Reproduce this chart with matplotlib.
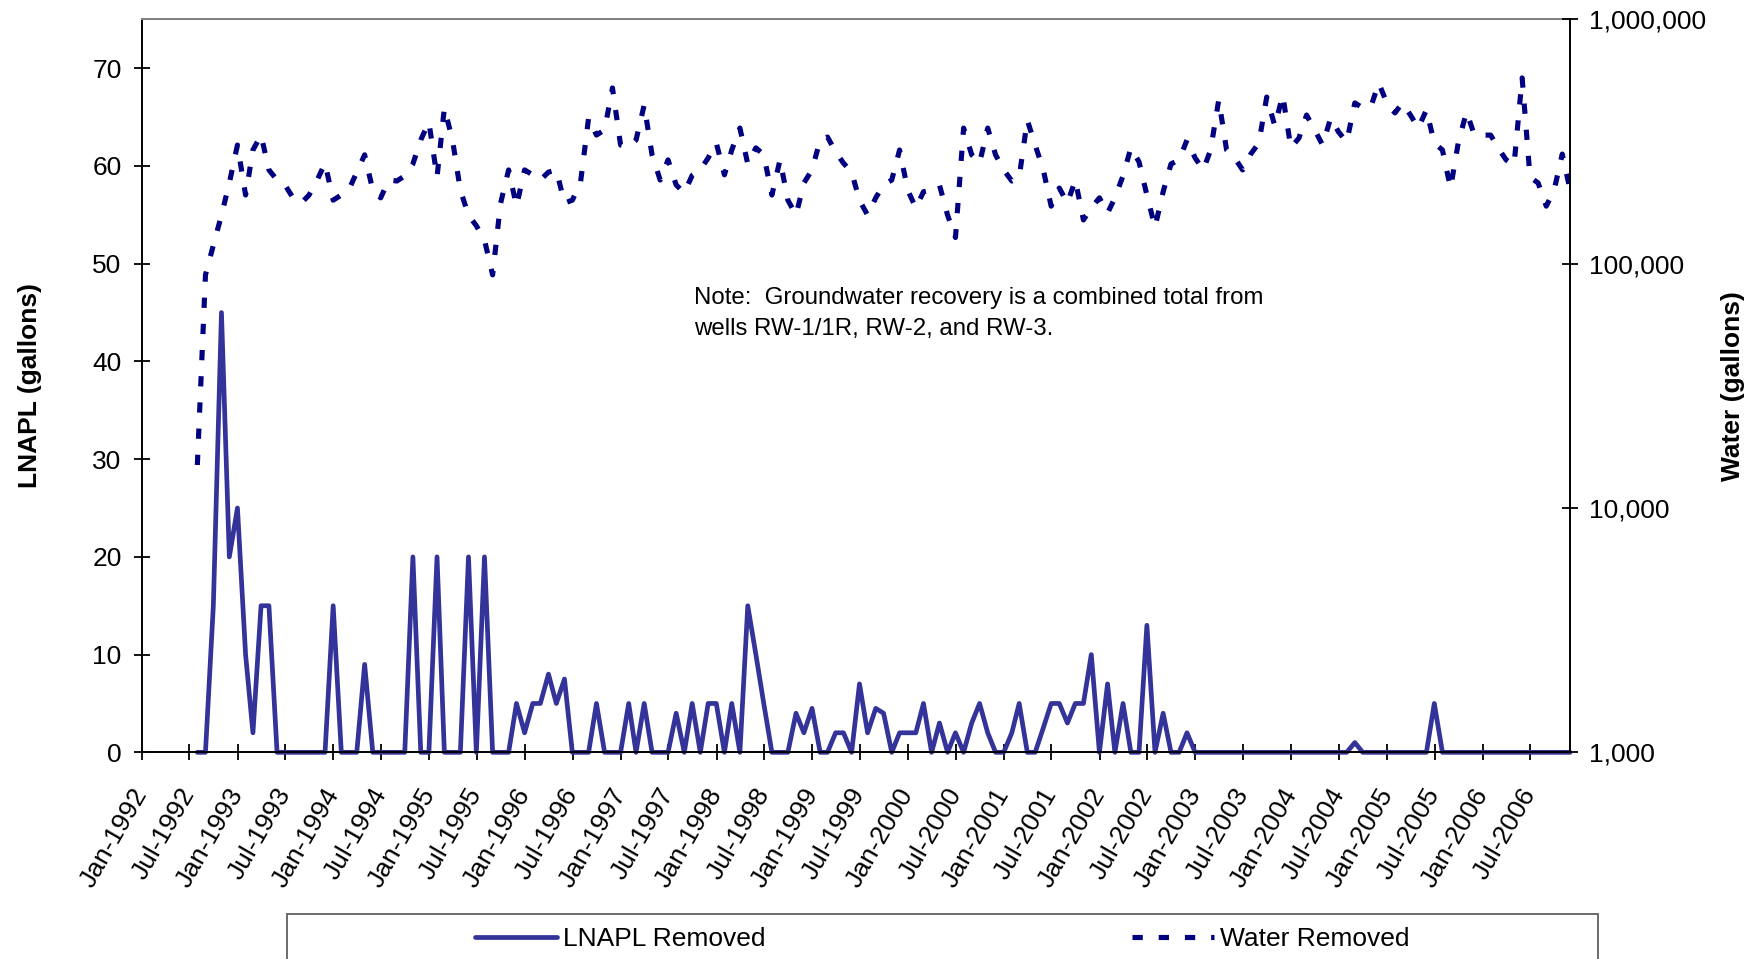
import numpy as np
import pandas as pd
import matplotlib
matplotlib.use('Agg')
import matplotlib.pyplot as plt
from matplotlib.ticker import FuncFormatter, NullLocator
from matplotlib.patches import Rectangle

plt.rcParams['font.family'] = ['Liberation Sans', 'DejaVu Sans']

# monthly totals Jul-1992 .. Nov-2006, plotted at month end
dates = pd.date_range('1992-08-01', '2006-12-01', freq='MS') - pd.Timedelta(days=1)

# LNAPL removed (gallons), one row per year
lnapl = (
    [0, 0, 15, 45, 20, 25] +                               # 1992 Jul-Dec
    [10, 2, 15, 15, 0, 0, 0, 0, 0, 0, 0, 15] +             # 1993
    [0, 0, 0, 9, 0, 0, 0, 0, 0, 20, 0, 0] +                # 1994
    [20, 0, 0, 0, 20, 0, 20, 0, 0, 0, 5, 2] +              # 1995
    [5, 5, 8, 5, 7.5, 0, 0, 0, 5, 0, 0, 0] +               # 1996
    [5, 0, 5, 0, 0, 0, 4, 0, 5, 0, 5, 5] +                 # 1997
    [0, 5, 0, 15, 10, 5, 0, 0, 0, 4, 2, 4.5] +             # 1998
    [0, 0, 2, 2, 0, 7, 2, 4.5, 4, 0, 2, 2] +               # 1999
    [2, 5, 0, 3, 0, 2, 0, 3, 5, 2, 0, 0] +                 # 2000
    [2, 5, 0, 0, 2.5, 5, 5, 3, 5, 5, 10, 0] +              # 2001
    [7, 0, 5, 0, 0, 13, 0, 4, 0, 0, 2, 0] +                # 2002
    [0, 0, 0, 0, 0, 0, 0, 0, 0, 0, 0, 0] +                 # 2003
    [0, 0, 0, 0, 0, 0, 0, 1, 0, 0, 0, 0] +                 # 2004
    [0, 0, 0, 0, 0, 5, 0, 0, 0, 0, 0, 0] +                 # 2005
    [0, 0, 0, 0, 0, 0, 0, 0, 0, 0, 0]                      # 2006 Jan-Nov
)

# water removed (thousand gallons)
water_k = (
    [15, 90, 119, 158, 214, 306] +
    [191, 292, 336, 242, 220, 210, 186, 177, 191, 220, 258, 182] +
    [191, 200, 237, 279, 200, 186, 220, 218, 229, 256, 321, 380] +
    [226, 434, 321, 200, 158, 143, 125, 90, 176, 242, 172, 242] +
    [231, 220, 237, 242, 177, 182, 214, 395, 336, 353, 524, 306] +
    [300, 321, 446, 279, 220, 266, 210, 195, 230, 242, 271, 312] +
    [231, 292, 359, 256, 298, 279, 191, 266, 182, 158, 214, 242] +
    [321, 330, 287, 258, 237, 182, 158, 186, 210, 220, 292, 200] +
    [169, 197, 200, 210, 158, 128, 359, 279, 258, 359, 279, 242] +
    [218, 226, 387, 306, 242, 172, 204, 177, 220, 151, 169, 186] +
    [161, 186, 229, 298, 261, 191, 141, 197, 256, 266, 321, 271] +
    [242, 292, 468, 292, 271, 242, 281, 312, 481, 366, 490, 298] +
    [327, 406, 353, 306, 395, 346, 315, 455, 434, 438, 549, 455] +
    [414, 455, 406, 359, 426, 312, 292, 204, 315, 418, 336, 336] +
    [336, 298, 266, 253, 576, 226, 214, 172, 200, 281, 200]
)
water = np.array(water_k) * 1000

tick_dates = pd.date_range('1992-01-01', '2006-07-01', freq='6MS')
tick_labels = [d.strftime('%b-%Y') for d in tick_dates]

fig = plt.figure(figsize=(17.63, 9.59), dpi=100)
ax = fig.add_axes([0.0804, 0.2155, 0.8102, 0.7643])
ax2 = ax.twinx()

l1, = ax.plot(dates, lnapl, color='#333399', lw=3.4, solid_joinstyle='round',
              solid_capstyle='round', clip_on=False, label='LNAPL Removed')
l2, = ax2.plot(dates, water, color='#000080', lw=3.7, dashes=(2.0, 3.1),
               dash_capstyle='butt', label='Water Removed')

ax.set_xlim(pd.Timestamp('1992-01-01'), pd.Timestamp('2006-11-30'))
ax.set_ylim(0, 75)
ax.set_yticks(range(0, 71, 10))
ax.set_xticks(tick_dates, tick_labels, rotation=60, ha='right', va='center',
              rotation_mode='anchor')
ax.tick_params(axis='x', direction='inout', length=12, width=1.3, labelsize=19, pad=21)
ax.tick_params(axis='y', direction='inout', length=12, width=1.3, labelsize=19, pad=8.5)

ax2.set_yscale('log')
ax2.set_ylim(1e3, 1e6)
ax2.set_yticks([1e3, 1e4, 1e5, 1e6])
ax2.yaxis.set_minor_locator(NullLocator())
ax2.yaxis.set_major_formatter(FuncFormatter(lambda v, p: f'{v:,.0f}'))
ax2.tick_params(axis='y', direction='inout', length=12, width=1.3, labelsize=19, pad=7.7)

for s in ['left', 'bottom']:
    ax.spines[s].set_linewidth(1.4)
    ax.spines[s].set_color('black')
ax.spines['right'].set_visible(False)
ax.spines['top'].set_color('#808080')
ax.spines['top'].set_linewidth(1.4)
for s in ['left', 'bottom', 'top']:
    ax2.spines[s].set_visible(False)
ax2.spines['right'].set_linewidth(1.4)

ax.set_ylabel('LNAPL (gallons)', fontsize=19, fontweight='bold')
ax.yaxis.set_label_coords(-0.0698, 0.5)
ax2.set_ylabel('Water (gallons)', fontsize=19, fontweight='bold', rotation=90)
ax2.yaxis.set_label_coords(1.1057, 0.5)

fig.text(693.7 / 1763, 1 - 313.5 / 959,
         'Note:  Groundwater recovery is a combined total from\nwells RW-1/1R, RW-2, and RW-3.',
         fontsize=17.3, ha='left', va='center', linespacing=1.55)

# legend box runs off the bottom of the chart
fig.patches.append(Rectangle((287 / 1763, -0.05), (1598 - 287) / 1763, 0.05 + 1 - 914 / 959,
                             transform=fig.transFigure, fill=False,
                             edgecolor='#606060', lw=1.3))
fig.legend([l1, l2], ['LNAPL Removed', 'Water Removed'], loc='center',
           bbox_to_anchor=(942.5 / 1763, 1 - 939.5 / 959), ncol=2, frameon=False,
           fontsize=19, handlelength=3.1, handletextpad=0.23, columnspacing=13.9)

fig.savefig('out.png', dpi=100, facecolor='white')
